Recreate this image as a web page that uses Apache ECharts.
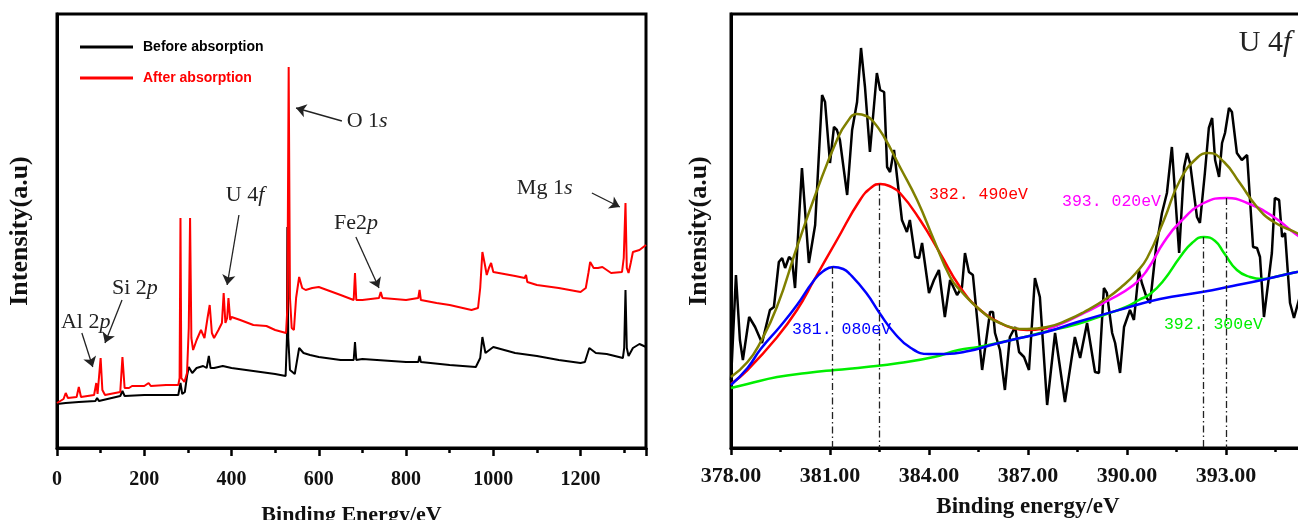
<!DOCTYPE html>
<html>
<head>
<meta charset="utf-8">
<title>XPS survey and U 4f</title>
<script src="https://cdn.jsdelivr.net/npm/echarts@6.0.0/dist/echarts.min.js"></script>
<style>
  html, body { margin: 0; padding: 0; background: #fff; }
  #chart { width: 1298px; height: 520px; }
</style>
</head>
<body>
<div id="chart"></div>
<script>
// ---- survey spectra (left panel), [binding energy eV, intensity a.u.] ----
const surveyBefore = [
  [0,44],[20,45],[50,46],[88,47],[92,50],[96,47],[100,48],[145,52],[150,57],[155,52],
  [200,53],[250,53],[278,53],[283,65],[287,54],[293,56],[298,72],[302,81],[310,75],[320,80],
  [335,82],[343,80],[348,92],[352,80],[360,80],[380,82],[400,80],[450,77],[500,74],[524,72],
  [527,110],[528,221],[530,110],[534,78],[545,74],[555,100],[565,95],[580,93],[600,91],[650,88],
  [680,88],[683,106],[686,88],[700,89],[800,86],[828,86],[831,92],[834,86],[900,83],[960,81],
  [970,90],[975,111],[982,95],[986,93],[1000,101],[1050,95],[1100,92],[1150,88],[1200,85],[1210,86],
  [1220,100],[1235,95],[1260,94],[1297,90],[1300,100],[1303,158],[1306,100],[1310,92],[1320,100],[1335,104],
  [1350,101]
];
const surveyAfter = [
  [0,45],[15,49],[20,55],[25,50],[45,51],[50,61],[55,51],[85,53],[90,65],[93,54],
  [97,56],[100,90],[104,58],[110,53],[145,56],[150,91],[155,60],[165,60],[172,62],[200,62],
  [210,65],[215,62],[250,63],[278,63],[281,70],[283,230],[285,70],[292,66],[298,75],[302,120],
  [305,230],[308,110],[312,98],[320,108],[330,118],[338,110],[345,130],[350,143],[355,115],[360,110],
  [370,118],[378,125],[382,155],[386,125],[390,130],[393,150],[397,128],[400,131],[420,128],[450,123],
  [480,122],[500,118],[525,115],[528,140],[531,381],[534,150],[538,120],[543,118],[548,150],[555,171],
  [562,160],[570,158],[585,160],[600,161],[650,153],[680,148],[683,175],[686,148],[700,148],[738,150],
  [742,156],[746,150],[800,148],[828,150],[831,158],[834,148],[870,145],[900,143],[950,138],[965,140],
  [970,160],[975,196],[980,185],[985,173],[990,180],[995,185],[1000,176],[1050,172],[1072,170],[1075,173],
  [1078,166],[1100,163],[1150,160],[1200,156],[1212,160],[1218,175],[1222,186],[1230,180],[1240,180],[1250,181],
  [1270,175],[1295,176],[1299,190],[1303,245],[1306,180],[1310,175],[1315,185],[1320,196],[1335,198],[1350,203]
];

// peak annotations on the survey: [text pos], [arrow from], [arrow to]
const surveyNotes = [
  { text: 'O 1{i|s}',  at: [664,327],  from: [653,327],  to: [548,340] },
  { text: 'U 4{i|f}',  at: [387,253],  from: [417,233],  to: [390,163] },
  { text: 'Fe2{i|p}',  at: [635,225],  from: [685,211],  to: [738,160] },
  { text: 'Mg 1{i|s}', at: [1054,260], from: [1226,255], to: [1290,241] },
  { text: 'Si 2{i|p}', at: [126,160],  from: [149,148],  to: [110,105] },
  { text: 'Al 2{i|p}', at: [9,126],    from: [57,115],   to: [82,81] }
];

// ---- U 4f high resolution (right panel) ----
const u4fRaw = [
  [378.0,68],[378.15,173],[378.27,108],[378.36,88],[378.55,131],[378.73,121],[378.94,105],[379.18,138],[379.30,141],[379.45,186],
  [379.55,190],[379.64,180],[379.76,191],[379.85,188],[379.94,160],[380.15,280],[380.36,185],[380.55,223],[380.76,353],[380.85,346],
  [381.00,285],[381.12,321],[381.21,318],[381.30,308],[381.52,253],[381.67,318],[381.82,346],[381.94,400],[382.06,361],[382.21,296],
  [382.42,375],[382.52,358],[382.64,356],[382.73,281],[382.82,276],[382.94,298],[383.18,228],[383.33,216],[383.42,228],[383.58,191],
  [383.70,190],[383.79,205],[384.00,155],[384.15,168],[384.30,178],[384.48,131],[384.64,168],[384.85,153],[385.00,161],[385.09,195],
  [385.21,176],[385.33,173],[385.61,78],[385.85,136],[385.94,136],[386.00,115],[386.15,98],[386.30,58],[386.45,111],[386.61,121],
  [386.73,96],[386.88,91],[387.03,78],[387.21,170],[387.36,151],[387.58,43],[387.82,115],[388.12,46],[388.42,111],[388.58,90],
  [388.79,125],[389.03,76],[389.15,75],[389.30,160],[389.39,155],[389.55,115],[389.64,105],[389.79,75],[389.91,121],[390.09,138],
  [390.21,128],[390.36,178],[390.45,165],[390.60,150],[390.70,145],[390.88,200],[391.06,235],[391.21,255],[391.36,301],[391.58,195],
  [391.73,281],[391.82,295],[391.91,285],[392.12,231],[392.21,225],[392.36,275],[392.48,320],[392.58,330],[392.67,288],[392.79,271],
  [392.88,305],[392.97,315],[393.09,340],[393.18,336],[393.33,295],[393.48,288],[393.64,293],[393.82,201],[393.94,200],[394.03,191],
  [394.15,131],[394.39,195],[394.48,250],[394.61,248],[394.70,211],[394.79,215],[394.94,145],[395.06,130],[395.15,141],[395.35,165]
];
const u4fEnvelope = [
  [378,71],[378.5,86],[378.88,105],[379.39,141],[380,201],[380.61,258],[381.21,308],[381.5,325],[381.82,334],[382.1,332],
  [382.3,327],[382.64,311],[383.12,281],[383.64,248],[384.15,208],[384.64,171],[384.94,158],[385.55,138],[386.15,125],[386.97,119],
  [387.58,121],[388.2,128],[388.7,136],[389.4,150],[389.9,163],[390.27,175],[390.61,190],[391.12,228],[391.61,268],[392.12,290],
  [392.48,295],[392.94,286],[393.42,265],[393.94,241],[394.45,226],[395.15,215],[396,200]
];
const u4fBackground = [
  [378,60],[378.5,64],[379.4,71],[380.3,75],[381.15,78],[382.1,81],[383.1,85],[384.15,91],[384.9,98],[385.5,101],
  [386.5,108],[387.5,116],[388.5,124],[389.3,133],[389.97,141],[390.36,148],[390.7,154],[391.12,168],[391.61,191],[391.97,205],
  [392.33,211],[392.67,207],[392.94,195],[393.33,178],[393.73,171],[394.09,169],[394.6,172],[395.15,176],[396,182]
];
const u4fPeak381 = [
  [378,63],[378.5,80],[378.9,99],[379.5,122],[380,143],[380.5,167],[380.8,177],[381.1,181],[381.4,179],[381.6,174],
  [382.1,155],[382.5,135],[382.95,115],[383.45,100],[384,94],[384.5,94],[385.2,97],[386,104],[386.5,108],[387.55,116],
  [388.5,126],[389.97,140],[391,149],[392.27,156],[393.2,162],[394.09,168],[395.15,176],[396,182]
];
const u4fPeak382 = [
  [378,64],[378.5,78],[379.4,111],[380,138],[380.52,168],[381.21,208],[381.91,248],[382.27,261],[382.52,264],[382.8,262],
  [383.12,255],[383.73,228],[384.33,195],[384.94,161],[385.55,138],[386.15,125],[386.52,120],[386.97,118],[387.58,120],[387.9,123]
];
const u4fPeak393 = [
  [387.6,119],[388.2,127],[388.7,135],[389.4,147],[390.2,163],[390.61,178],[391.12,206],[391.61,226],[392.33,245],[393.03,250],
  [393.64,245],[394.45,231],[395.15,213],[396,195]
];

// fitted peak centres, the height of each fit curve there, label text position
const peakCentres = [381.08, 382.49, 392.30, 393.02];
const peakTops = [181, 264, 211, 250];
const peakLabels = ['381. 080eV', '382. 490eV', '392. 300eV', '393. 020eV'];
const peakLabelAt = [[379.85,118], [384.0,253], [391.12,123], [388.03,246]];

const leftTicks = [0, 200, 400, 600, 800, 1000, 1200];
const rightTicks = [378, 381, 384, 387, 390, 393];

const serif = '"Liberation Serif", "Times New Roman", serif';
const monoLabel = '"Liberation Mono", monospace';

const chart = echarts.init(document.getElementById('chart'), null, { renderer: 'canvas' });

function peakMarker(i) {
  return {
    silent: true,
    symbol: 'none',
    label: { show: false },
    lineStyle: { color: '#222', width: 1.3, type: [7, 3, 1.5, 3] },
    data: [[{ coord: [peakCentres[i], peakTops[i]] }, { coord: [peakCentres[i], 0] }]]
  };
}

function peakText(i, color) {
  return {
    silent: true,
    symbolSize: 0,
    label: {
      show: true, position: 'right', distance: 0,
      formatter: peakLabels[i], color: color,
      fontFamily: monoLabel, fontSize: 16.5
    },
    data: [{ coord: peakLabelAt[i] }]
  };
}

function fitLine(name, data, color, extra) {
  return Object.assign({
    name: name, type: 'line', xAxisIndex: 2, yAxisIndex: 1,
    data: data, smooth: true, showSymbol: false,
    lineStyle: { color: color, width: 2.5 }, itemStyle: { color: color }
  }, extra || {});
}

const boldAxisText = { color: '#111', fontFamily: serif, fontWeight: 'bold' };

const option = {
  animation: false,
  backgroundColor: '#fff',
  grid: [
    { left: 57, top: 14, width: 589, height: 434, show: true, borderColor: '#000', borderWidth: 3,
      outerBoundsMode: 'none', containLabel: false },
    { left: 731, top: 14, width: 594, height: 434, show: true, borderColor: '#000', borderWidth: 3,
      outerBoundsMode: 'none', containLabel: false }
  ],
  legend: {
    data: [
      { name: 'Before absorption', textStyle: { color: '#000' } },
      { name: 'After absorption', textStyle: { color: '#ff0000' } }
    ],
    orient: 'vertical', left: 75, top: 35,
    icon: 'rect', itemWidth: 53, itemHeight: 3, itemGap: 17,
    textStyle: { fontFamily: '"Liberation Sans", Arial, sans-serif', fontWeight: 'bold', fontSize: 14, padding: [0, 0, 0, 5] }
  },
  xAxis: [
    {
      gridIndex: 0, type: 'value', min: 0, max: 1350, interval: 200,
      axisLine: { lineStyle: { color: '#000', width: 3 } },
      axisTick: { length: 8, lineStyle: { color: '#000', width: 2.5 } },
      minorTick: { show: false },
      splitLine: { show: false },
      axisLabel: Object.assign({ fontSize: 20, margin: 22,
        formatter: v => leftTicks.includes(v) ? String(v) : '' }, boldAxisText),
      name: 'Binding Energy/eV', nameLocation: 'middle', nameGap: 56,
      nameTextStyle: Object.assign({ fontSize: 22 }, boldAxisText)
    },
    {
      // minor ticks every 100 eV on the survey axis
      gridIndex: 0, type: 'value', min: 0, max: 1350, interval: 100, position: 'bottom',
      axisLine: { show: false },
      axisTick: { length: 5, lineStyle: { color: '#000', width: 2.5 } },
      axisLabel: { show: false }, splitLine: { show: false }
    },
    {
      gridIndex: 1, type: 'value', min: 378, max: 396, interval: 3,
      axisLine: { lineStyle: { color: '#000', width: 3 } },
      axisTick: { length: 7, lineStyle: { color: '#000', width: 2.5 } },
      minorTick: { show: true, splitNumber: 2, length: 4, lineStyle: { color: '#000', width: 2.5 } },
      splitLine: { show: false },
      axisLabel: Object.assign({ fontSize: 22, margin: 17,
        formatter: v => rightTicks.includes(v) ? v.toFixed(2) : '' }, boldAxisText),
      name: 'Binding energy/eV', nameLocation: 'middle', nameGap: 48,
      nameTextStyle: Object.assign({ fontSize: 23 }, boldAxisText)
    }
  ],
  yAxis: [
    {
      gridIndex: 0, type: 'value', min: 0, max: 434,
      axisLine: { lineStyle: { color: '#000', width: 3 } },
      axisTick: { show: false }, axisLabel: { show: false }, splitLine: { show: false },
      name: 'Intensity(a.u)', nameLocation: 'middle', nameRotate: 90, nameGap: 24,
      nameTextStyle: Object.assign({ fontSize: 26 }, boldAxisText)
    },
    {
      gridIndex: 1, type: 'value', min: 0, max: 434,
      axisLine: { lineStyle: { color: '#000', width: 3 } },
      axisTick: { show: false }, axisLabel: { show: false }, splitLine: { show: false },
      name: 'Intensity(a.u)', nameLocation: 'middle', nameRotate: 90, nameGap: 19,
      nameTextStyle: Object.assign({ fontSize: 26 }, boldAxisText)
    }
  ],
  series: [
    {
      name: 'Before absorption', type: 'line', xAxisIndex: 0, yAxisIndex: 0,
      data: surveyBefore, showSymbol: false,
      lineStyle: { color: '#000', width: 2 }, itemStyle: { color: '#000' },
      markLine: {
        silent: true, symbol: ['none', 'arrow'], symbolSize: 10,
        label: { show: false },
        itemStyle: { color: '#222' },
        lineStyle: { color: '#222', width: 1.3, type: 'solid' },
        data: surveyNotes.map(n => [{ coord: n.from }, { coord: n.to }])
      },
      markPoint: {
        silent: true, symbolSize: 0,
        label: {
          show: true, position: 'right', distance: 0, color: '#222',
          fontFamily: serif, fontSize: 22,
          rich: { i: { fontFamily: serif, fontSize: 22, fontStyle: 'italic', color: '#222' } }
        },
        data: surveyNotes.map(n => ({ coord: n.at, label: { formatter: n.text } }))
      }
    },
    {
      name: 'After absorption', type: 'line', xAxisIndex: 0, yAxisIndex: 0,
      data: surveyAfter, showSymbol: false,
      lineStyle: { color: '#ff0000', width: 2 }, itemStyle: { color: '#ff0000' }
    },
    {
      name: 'U 4f raw', type: 'line', xAxisIndex: 2, yAxisIndex: 1,
      data: u4fRaw, showSymbol: false,
      lineStyle: { color: '#000', width: 2.5 }, itemStyle: { color: '#000' },
      markPoint: {
        silent: true, symbolSize: 0,
        label: {
          show: true, position: 'right', distance: 0, color: '#222',
          fontFamily: serif, fontSize: 30, formatter: 'U 4{i|f}',
          rich: { i: { fontFamily: serif, fontSize: 30, fontStyle: 'italic', color: '#222' } }
        },
        data: [{ coord: [393.39, 405] }]
      }
    },
    fitLine('Background + 392.30', u4fBackground, '#00ee00',
      { markLine: peakMarker(2), markPoint: peakText(2, '#00ee00') }),
    fitLine('382.49', u4fPeak382, '#ff0000',
      { markLine: peakMarker(1), markPoint: peakText(1, '#ff0000') }),
    fitLine('393.02', u4fPeak393, '#ff00ff',
      { markLine: peakMarker(3), markPoint: peakText(3, '#ff00ff') }),
    fitLine('Envelope', u4fEnvelope, '#808000'),
    fitLine('381.08', u4fPeak381, '#0000ff',
      { markLine: peakMarker(0), markPoint: peakText(0, '#0000ff') })
  ]
};

chart.setOption(option);
</script>
</body>
</html>
